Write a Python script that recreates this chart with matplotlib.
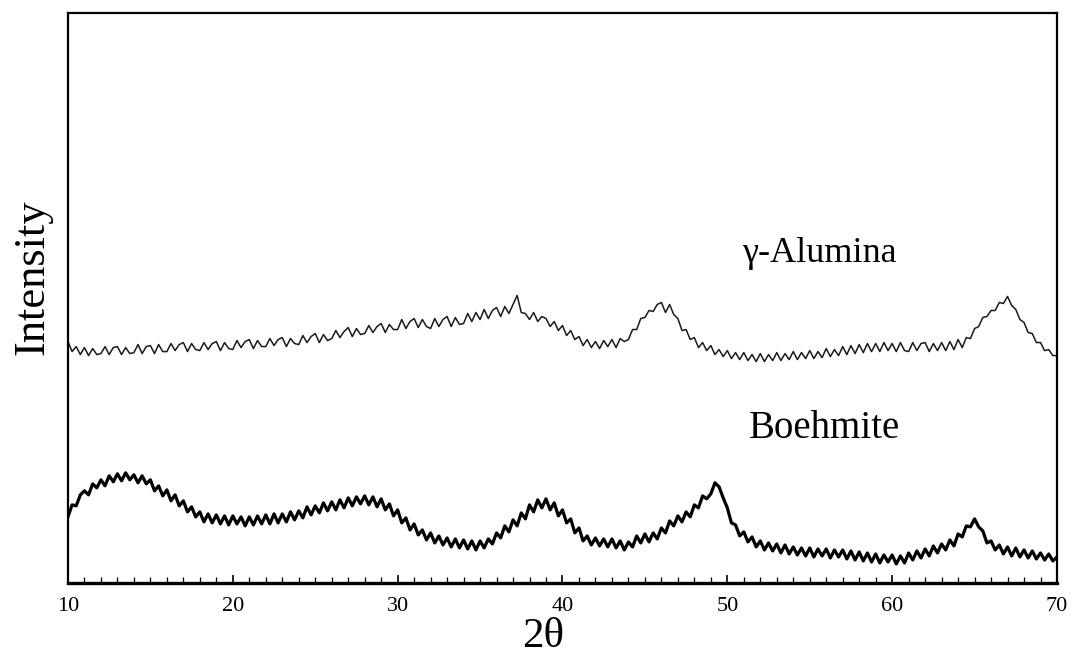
import numpy as np
import matplotlib
matplotlib.use("Agg")
import matplotlib.pyplot as plt
from matplotlib.ticker import MultipleLocator

# XRD patterns, every 0.25 degree (intensity in arbitrary units)
two_theta = np.arange(10, 70.001, 0.25)

alumina = [
    241, 231, 236, 228,  235, 227, 234, 228,  229, 236, 228, 235,   # 10-12
    236, 228, 235, 229,  230, 238, 229, 236,  237, 229, 238, 231,   # 13-15
    231, 239, 232, 238,  240, 231, 239, 233,  232, 240, 233, 239,   # 16-18
    241, 232, 240, 234,  233, 242, 235, 241,  243, 234, 242, 236,   # 19-21
    236, 244, 237, 243,  245, 236, 244, 239,  238, 247, 240, 246,   # 22-24
    249, 240, 248, 242,  244, 252, 245, 251,  255, 246, 254, 248,   # 25-27
    249, 257, 250, 256,  259, 250, 258, 253,  253, 263, 254, 261,   # 28-30
    264, 255, 263, 256,  254, 264, 256, 263,  266, 256, 265, 258,   # 31-33
    259, 269, 261, 270,  263, 273, 264, 272,  275, 266, 276, 269,   # 34-36
    278, 287, 270, 269,  263, 270, 261, 266,  264, 256, 261, 252,   # 37-39
    257, 247, 252, 243,  246, 237, 243, 235,  241, 234, 242, 236,   # 40-42
    243, 235, 244, 241,  243, 253, 253, 264,  265, 272, 271, 278,   # 43-45
    280, 270, 278, 268,  264, 252, 253, 243,  245, 235, 240, 232,   # 46-48
    237, 228, 233, 226,  232, 224, 230, 223,  230, 222, 228, 221,   # 49-51
    229, 221, 228, 222,  230, 222, 229, 223,  231, 223, 230, 224,   # 52-54
    232, 224, 231, 225,  234, 226, 233, 227,  236, 228, 237, 229,   # 55-57
    238, 230, 239, 231,  239, 231, 240, 232,  239, 231, 240, 232,   # 58-60
    231, 240, 232, 239,  240, 231, 239, 232,  240, 232, 241, 233,   # 61-63
    243, 235, 245, 244,  254, 256, 265, 266,  272, 272, 280, 279,   # 64-66
    286, 277, 273, 263,  260, 250, 249, 240,  240, 232, 233, 227,   # 67-69
    227,                                                            # 70
]

boehmite = [
    66, 78, 77, 88,   92, 88, 99, 95,   103, 97, 107, 101,           # 10-12
    109, 102, 110, 103,  108, 100, 107, 99,  103, 92, 97, 87,        # 13-15
    93, 82, 88, 77,   82, 71, 76, 66,   71, 61, 69, 60,              # 16-18
    68, 59, 67, 58,   67, 59, 66, 57,   66, 58, 67, 59,              # 19-21
    68, 59, 69, 60,   69, 61, 71, 63,   72, 65, 76, 68,              # 22-24
    77, 70, 80, 72,   81, 73, 83, 75,   85, 77, 86, 79,              # 25-27
    87, 78, 86, 76,   84, 73, 79, 67,   73, 60, 65, 53,              # 28-30
    59, 48, 53, 43,   50, 40, 47, 38,   45, 36, 44, 35,              # 31-33
    43, 34, 42, 33,   42, 35, 44, 39,   50, 45, 57, 51,              # 34-36
    63, 57, 70, 64,   78, 71, 83, 75,   84, 73, 80, 67,              # 37-39
    73, 60, 64, 50,   55, 42, 47, 38,   45, 37, 44, 36,              # 40-42
    44, 35, 42, 33,   41, 36, 47, 40,   49, 41, 50, 44,              # 43-45
    55, 50, 62, 57,   67, 61, 71, 66,   78, 75, 87, 84,              # 46-48
    89, 100, 96, 85,  75, 60, 58, 47,   51, 41, 46, 36,              # 49-51
    42, 33, 40, 32,   39, 30, 38, 29,   36, 28, 35, 27,              # 52-54
    35, 26, 34, 27,   34, 25, 33, 26,   33, 24, 32, 23,              # 55-57
    31, 22, 30, 21,   29, 20, 28, 21,   28, 19, 27, 20,              # 58-60
    30, 23, 32, 25,   34, 27, 37, 30,   39, 33, 43, 37,              # 61-63
    49, 46, 57, 56,   64, 56, 52, 40,   42, 33, 38, 29,              # 64-66
    36, 27, 35, 26,   33, 25, 32, 24,   30, 23, 29, 22,              # 67-69
    26,                                                              # 70
]

plt.rcParams['font.family'] = ['Liberation Serif', 'DejaVu Serif']

fig = plt.figure(figsize=(10.72, 6.66), dpi=100)
ax = fig.add_axes([0.0634, 0.1246, 0.9226, 0.856])

ax.plot(two_theta, alumina, color='#1a1a1a', lw=1.1)
ax.plot(two_theta, boehmite, color='black', lw=2.3)

ax.text(55.6, 320, 'γ-Alumina', fontsize=26, ha='center', va='baseline')
ax.text(55.9, 145, 'Boehmite', fontsize=28, ha='center', va='baseline')

ax.set_xlim(10, 70)
ax.set_ylim(0, 569)
ax.set_yticks([])
ax.xaxis.set_major_locator(MultipleLocator(10))
ax.xaxis.set_minor_locator(MultipleLocator(1))
ax.tick_params(axis='x', which='major', direction='in', length=6, width=1.2,
               labelsize=16, pad=10)
ax.tick_params(axis='x', which='minor', direction='in', length=4.5, width=0.9)

ax.set_xlabel('2θ', fontsize=31, va='top')
ax.xaxis.set_label_coords(0.481, -0.06)
ax.set_ylabel('Intensity', fontsize=32, va='center')
ax.yaxis.set_label_coords(-0.036, 0.537)

for side in ['left', 'top', 'right']:
    ax.spines[side].set_linewidth(1.6)
ax.spines['bottom'].set_linewidth(2.4)

fig.savefig('out.png', dpi=100)
